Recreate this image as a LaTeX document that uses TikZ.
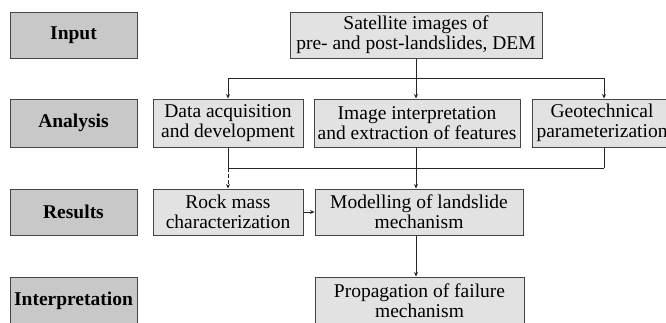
\documentclass[tikz,border=0pt]{standalone}
\usepackage{fontspec}
\setmainfont{Liberation Serif}
\usetikzlibrary{arrows.meta}
\definecolor{lbl}{HTML}{C8C8C8}
\definecolor{box}{HTML}{E2E2E2}
\definecolor{edge}{HTML}{444444}
\definecolor{ln}{HTML}{262626}
\tikzset{
  lvl/.style={draw=edge, line width=1pt, fill=lbl, minimum width=127pt, inner sep=0pt, font=\fontsize{19.5}{20}\selectfont\bfseries, align=center},
  proc/.style={draw=edge, line width=1pt, fill=box, inner sep=0pt, font=\fontsize{19.5}{20}\selectfont, align=center},
  con/.style={draw=ln, line width=1pt},
  arr/.style={con, -{Stealth[length=4.5pt,width=4pt]}}
}
\begin{document}
\begin{tikzpicture}[x=1pt,y=-1pt]
\useasboundingbox (0,0) rectangle (666,322);
\clip (0,0) rectangle (666,322);
\fill[white] (0,0) rectangle (666,322);
% level labels
\node[lvl, minimum height=46pt] (input) at (73.5,35) {Input};
\node[lvl, minimum height=48pt] (analysis) at (73.5,123) {Analysis};
\node[lvl, minimum height=46pt] (results) at (73.5,212) {Results};
\node[lvl, minimum height=48pt] (interp) at (73.5,301) {Interpretation};
% process boxes
\node[proc, minimum width=252pt, minimum height=46pt] (sat) at (416,35) {Satellite images of\\pre- and post-landslides, DEM};
\node[proc, minimum width=150pt, minimum height=48pt] (data) at (228,123) {Data acquisition\\and development};
\node[proc, minimum width=206pt, minimum height=48pt] (img) at (417,123) {Image interpretation\\and extraction of features};
\node[proc, minimum width=140pt, minimum height=48pt] (geo) at (602,123) {Geotechnical\\parameterization};
\node[proc, minimum width=150pt, minimum height=46pt] (rock) at (228,212) {Rock mass\\characterization};
\node[proc, minimum width=208pt, minimum height=46pt] (mod) at (419,212) {Modelling of landslide\\mechanism};
\node[proc, minimum width=209pt, minimum height=48pt] (prop) at (419.5,301) {Propagation of failure\\mechanism};
% junctions
\coordinate (jL) at (228,78);
\coordinate (jC) at (416,78);
\coordinate (jR) at (604,78);
\coordinate (kL) at (228,168);
\coordinate (kR) at (604,168);
% connectors
\draw[con] (sat.south -| jC) -- (jC);
\draw[con] (jL) -- (jR);
\draw[arr] (jL) -- (data.north);
\draw[arr] (jC) -- (jC |- img.north);
\draw[arr] (jR) -- (jR |- geo.north);
\draw[con] (data.south) -- (kL);
\draw[con] (kL) -- (kR);
\draw[con] (kR |- geo.south) -- (kR);
\draw[arr] (jC |- img.south) -- (jC |- mod.north);
\draw[arr, dashed, dash pattern=on 4pt off 2pt] (kL) -- (rock.north);
\draw[arr] (rock.east) -- (rock.east -| mod.west);
\draw[arr] (jC |- mod.south) -- (jC |- prop.north);
\end{tikzpicture}
\end{document}
